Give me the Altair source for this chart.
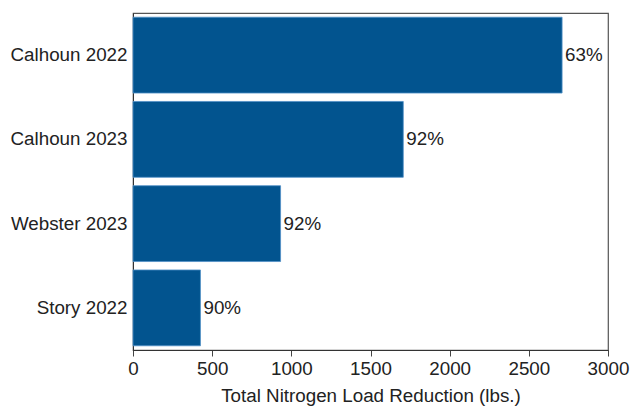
import altair as alt
import pandas as pd

sites = ["Calhoun 2022", "Calhoun 2023", "Webster 2023", "Story 2022"]
reduction = [2710, 1707, 932, 426]
pct = ["63%", "92%", "92%", "90%"]

df = pd.DataFrame({"site": sites, "value": reduction, "pct": pct})

FONT = "Liberation Sans"
FS = 18.8

x = alt.X(
    "value:Q",
    scale=alt.Scale(domain=[0, 3000], nice=False),
    axis=alt.Axis(
        title="Total Nitrogen Load Reduction (lbs.)",
        values=list(range(0, 3001, 250)),
        labelExpr="datum.value % 500 == 0 ? datum.label : ''",
        format="d",
        grid=False,
        tickSize=6,
        tickColor="#444",
        domainColor="#333",
        labelFontSize=FS,
        labelColor="#222",
        labelFont=FONT,
        titleFont=FONT,
        titleFontSize=FS,
        titleFontWeight="normal",
        titleColor="#222",
        titlePadding=9,
        labelPadding=3,
        labelFlush=False,
    ),
)
y = alt.Y(
    "site:N",
    sort=sites,
    scale=alt.Scale(paddingInner=0.1, paddingOuter=0.05),
    axis=alt.Axis(
        title=None,
        ticks=False,
        domainColor="#333",
        labelFontSize=FS,
        labelColor="#222",
        labelFont=FONT,
        labelPadding=6,
    ),
)

bars = alt.Chart(df).mark_bar(color="#02548f", stroke="#4f8fc6", strokeWidth=0.8).encode(x=x, y=y)
labels = alt.Chart(df).mark_text(
    align="left", baseline="middle", dx=3, fontSize=FS, font=FONT, color="#222"
).encode(x="value:Q", y=alt.Y("site:N", sort=sites), text="pct:N")

chart = (
    alt.layer(bars, labels)
    .properties(
        width=475,
        height=337,
        autosize=alt.AutoSizeParams(type="none"),
        padding={"left": 133, "top": 13, "right": 22, "bottom": 60},
    )
    .configure_view(stroke="#555", strokeWidth=1.2)
)

chart.save("out.html", embed_options={"renderer": "svg", "actions": False})
